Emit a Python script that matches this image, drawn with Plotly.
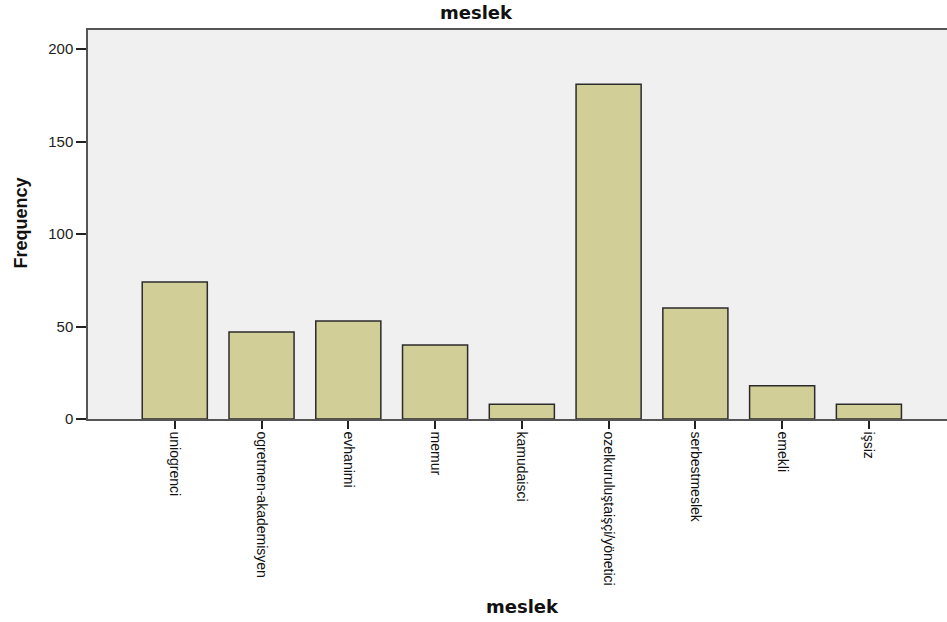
import plotly.graph_objects as go

categories = ["uniogrenci", "ogretmen-akademisyen", "evhanimi", "memur", "kamudaisci",
              "ozelkuruluştaişçi/yönetici", "serbestmeslek", "emekli", "işsiz"]
frequency = [74, 47, 53, 40, 8, 181, 60, 18, 8]
y_ticks = [0, 50, 100, 150, 200]

W, H = 947, 622
L, T, B = 88, 30, 203
plot_w, plot_h = W - L, H - T - B

fig = go.Figure()
fig.add_trace(go.Bar(
    x=categories, y=frequency, width=0.75,
    marker=dict(color="#D2CE97", line=dict(color="#2b2b2b", width=1.5)),
    hoverinfo="x+y",
))

font = "Liberation Sans, Arial, sans-serif"
title_font = "DejaVu Sans, sans-serif"
fig.update_layout(
    width=W, height=H,
    margin=dict(l=L, r=0, t=T, b=B),
    paper_bgcolor="white", plot_bgcolor="#F0F0F0",
    showlegend=False,
    font=dict(family=font, color="#222"),
    title=dict(text="<b>meslek</b>", x=476 / W, xref="container", xanchor="center",
               y=1 - 13 / H, yref="container", yanchor="middle",
               font=dict(size=18, family=title_font, color="#111")),
    xaxis=dict(
        type="category", range=[-1, 8.9],
        showline=True, linecolor="#555", linewidth=1.5, mirror=True,
        ticks="outside", ticklen=8, tickcolor="#222", tickwidth=1.5,
        tickangle=90, tickfont=dict(size=14, family=font, color="#111"),
        showgrid=False, zeroline=False,
    ),
    yaxis=dict(
        range=[0, 210.3], tickvals=y_ticks,
        showline=True, linecolor="#555", linewidth=1.5,
        ticks="outside", ticklen=10, tickcolor="#222", tickwidth=1.5,
        tickfont=dict(size=15, family=font, color="#222"),
        showgrid=False, zeroline=False,
    ),
    annotations=[
        dict(text="<b>meslek</b>", xref="paper", yref="paper", x=(522 - L) / plot_w,
             y=-187 / plot_h, xanchor="center", yanchor="middle", showarrow=False,
             font=dict(size=18, family=title_font, color="#111")),
        dict(text="<b>Frequency</b>", xref="paper", yref="paper", x=-68 / plot_w,
             y=(419 - 223.5) / plot_h, xanchor="center", yanchor="middle", showarrow=False,
             textangle=-90, font=dict(size=18, family=font, color="#111")),
    ],
)

fig.write_html("out.html", config={"displayModeBar": False},
               post_script="document.body.style.margin='0px';")
